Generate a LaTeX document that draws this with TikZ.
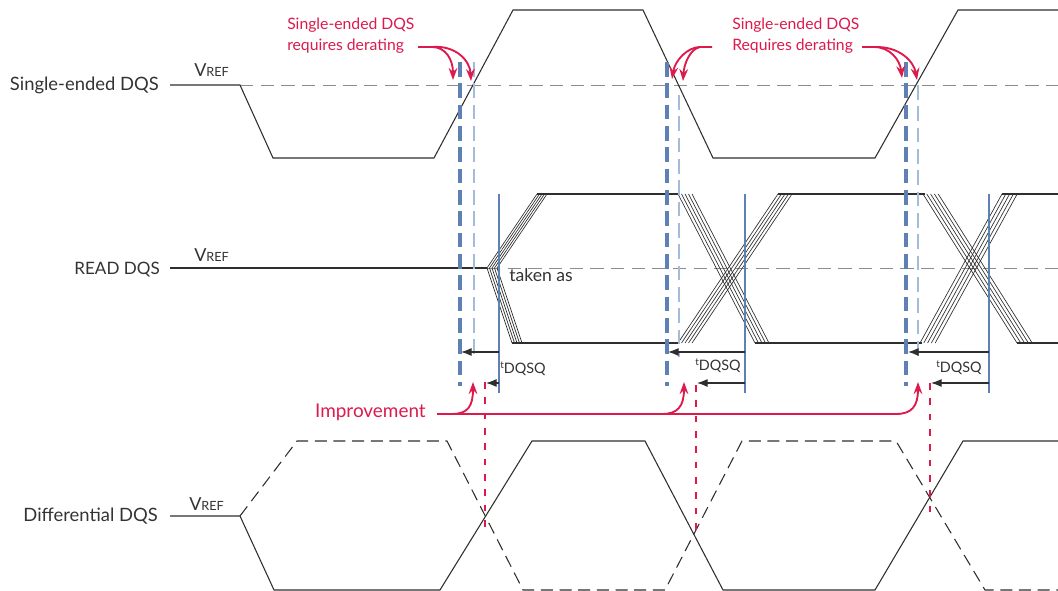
\documentclass[tikz,border=0pt]{standalone}
\usepackage{fontspec}
\setmainfont{Lato}
\usetikzlibrary{arrows.meta}
\definecolor{sig}{HTML}{2E2E2E}
\definecolor{txt}{HTML}{333333}
\definecolor{redc}{HTML}{DC1A4C}
\definecolor{dblue}{HTML}{5F80B4}
\definecolor{lblue}{HTML}{A5BBDA}
\definecolor{refg}{HTML}{8C8C8C}
\begin{document}
\begin{tikzpicture}[x=0.75pt,y=-0.75pt,
  wave/.style={draw=sig,line width=0.8pt},
  dwave/.style={draw=sig,line width=0.8pt,dash pattern=on 9pt off 5pt},
  eye/.style={draw=sig,line width=0.5pt},
  vref/.style={draw=refg,line width=0.7pt,dash pattern=on 10pt off 5.5pt},
  thickdash/.style={draw=dblue,line width=2.4pt,dash pattern=on 11pt off 5pt},
  thindash/.style={draw=lblue,line width=1pt,dash pattern=on 11pt off 5pt},
  bluesolid/.style={draw=dblue,line width=1pt},
  reddash/.style={draw=redc,line width=1.6pt,dash pattern=on 5pt off 6.5pt},
  redarrow/.style={draw=redc,line width=1.4pt,-{Stealth[length=9pt,width=6.5pt]}},
  blackarrow/.style={draw=sig,line width=0.8pt,-{Latex[length=8pt,width=6pt]}},
  lbl/.style={text=txt,font=\fontsize{13.8}{16}\selectfont,inner sep=0pt},
  redlbl/.style={text=redc,font=\fontsize{11.8}{15.8}\selectfont,inner sep=0pt,align=left},
  vlbl/.style={text=txt,inner sep=0pt},
  tlbl/.style={text=txt,inner sep=0pt,anchor=west}]
\useasboundingbox (0,0) rectangle (1058,591);

% ---------- labels ----------
\node[lbl,anchor=east] (se) at (159,85) {Single-ended DQS};
\node[lbl,anchor=east,font=\fontsize{12.8}{15}\selectfont] (rd) at (160,270) {READ DQS};
\node[lbl,anchor=east] (df) at (158,516) {Differential DQS};
\newcommand{\vrefl}{{\fontsize{13.5}{14}\selectfont V}{\fontsize{9.5}{10}\selectfont REF}}
\node[vlbl,anchor=base west] (v1) at (194,77) {\vrefl};
\node[vlbl,anchor=base west] (v2) at (194,262) {\vrefl};
\node[vlbl,anchor=base west] (v3) at (189,511) {\vrefl};

% ---------- Vref dashed lines ----------
\draw[vref] (240,85) -- (1058,85);
\draw[vref] (487,268) -- (1058,268);

% ---------- single-ended DQS ----------
\draw[wave] (170,85) -- (240,85) -- (273,158) -- (434,158) -- (513,10) -- (643,10)
  -- (713,158) -- (875,158) -- (958,10) -- (1058,10);

% ---------- READ DQS ----------
\draw[wave] (170,268) -- (487,268);
\foreach \k in {0,...,4}{
  \draw[eye] (537+2.5*\k,194) -- (487+2.5*\k,268) -- (512+2.5*\k,343);
  \draw[eye] (678+3.5*\k,194) -- (755+3.5*\k,343);
  \draw[eye] (678+3.5*\k,343) -- (778+3.5*\k,194);
  \draw[eye] (923+3.8*\k,194) -- (1017+3.8*\k,343);
  \draw[eye] (920+3.8*\k,343) -- (1002+3.8*\k,194);
}
\draw[wave] (537,194) -- (680,194);
\draw[wave] (512,343) -- (680,343);
\draw[wave] (778,194) -- (925,194);
\draw[wave] (755,343) -- (922,343);
\draw[wave] (1002,194) -- (1058,194);
\draw[wave] (1017,343) -- (1058,343);
\node[lbl,anchor=west,font=\fontsize{13.2}{15}\selectfont] (tk) at (509,275) {taken as};

% ---------- differential DQS ----------
\draw[wave] (170,516) -- (240,516) -- (274,590) -- (440,590) -- (532,441) -- (645,441)
  -- (723,590) -- (875,590) -- (963,441) -- (1058,441);
\draw[dwave] (240,516) -- (297,441) -- (447,441) -- (523,590) -- (665,590)
  -- (742,441) -- (896,441) -- (985,590) -- (1058,590);

% ---------- timing verticals ----------
\foreach \x/\n in {460/a,667/b,906/c}{
  \coordinate (td\n) at (\x,62);
  \coordinate (bd\n) at (\x,386);
  \draw[thickdash] (td\n) -- (bd\n);
}
\coordinate (tl1) at (474,62);  \coordinate (bl1) at (474,356);
\coordinate (tl2) at (679,95);  \coordinate (bl2) at (679,357);
\coordinate (tl3) at (918,85);  \coordinate (bl3) at (918,357);
\foreach \i in {1,2,3}{\draw[thindash] (tl\i) -- (bl\i);}
\foreach \x/\n in {499/a,745/b,989/c}{
  \coordinate (ts\n) at (\x,194);
  \coordinate (bs\n) at (\x,393);
  \draw[bluesolid] (ts\n) -- (bs\n);
}
% red dashed verticals
\coordinate (r1t) at (485,382); \coordinate (r1b) at (485,528);
\coordinate (r2t) at (696,385); \coordinate (r2b) at (696,538);
\coordinate (r3t) at (930,383); \coordinate (r3b) at (930,512);
\foreach \i in {1,2,3}{\draw[reddash] (r\i t) -- (r\i b);}

% ---------- tDQSQ arrows ----------
\newcommand{\tdqsq}{{\fontsize{7.5}{8}\selectfont\raisebox{3.8pt}{t}}{\fontsize{10.8}{11}\selectfont DQSQ}}
\draw[blackarrow] (499,352) -- (461,352);
\draw[blackarrow] (499,383) -- (486,383);
\draw[blackarrow] (745,352) -- (668,352);
\draw[blackarrow] (745,383) -- (697,383);
\draw[blackarrow] (989,352) -- (908,352);
\draw[blackarrow] (989,383) -- (931,383);
\node[tlbl] (q1) at (500,369) {\tdqsq};
\node[tlbl] (q2) at (695,366) {\tdqsq};
\node[tlbl] (q3) at (936,368) {\tdqsq};

% ---------- red annotations ----------
\node[redlbl,anchor=west] (n1) at (287,35.5) {Single-ended DQS\\requires derating};
\node[redlbl,anchor=west] (n2) at (732,35.5) {Single-ended DQS\\Requires derating};
\coordinate (s1) at (418,47);
\draw[redarrow] (s1) -- (432,47) .. controls (446,47) and (453,60) .. (453,80);
\draw[redarrow] (432,47) .. controls (455,45) and (470,60) .. (471,81);
\coordinate (s2) at (712,47);
\draw[redarrow] (s2) -- (700,47) .. controls (688,47) and (675,60) .. (672,79);
\draw[redarrow] (700,47) .. controls (690,49) and (684,64) .. (683,81);
\coordinate (s3) at (862,47);
\draw[redarrow] (s3) -- (874,47) .. controls (890,47) and (900,60) .. (902,78);
\draw[redarrow] (874,47) .. controls (900,46) and (914,62) .. (917,80);

\node[redlbl,anchor=east,font=\fontsize{14.2}{16}\selectfont] (imp) at (426,412) {Improvement};
\coordinate (i0) at (437,414);
\draw[draw=redc,line width=1.4pt] (i0) -- (897,414);
\draw[redarrow] (i0) -- (452,414) .. controls (468,414) and (473,406) .. (473,382);
\draw[redarrow] (662,414) .. controls (678,414) and (684,406) .. (684,382);
\draw[redarrow] (896,414) .. controls (912,414) and (918,406) .. (918,382);
\end{tikzpicture}
\end{document}
